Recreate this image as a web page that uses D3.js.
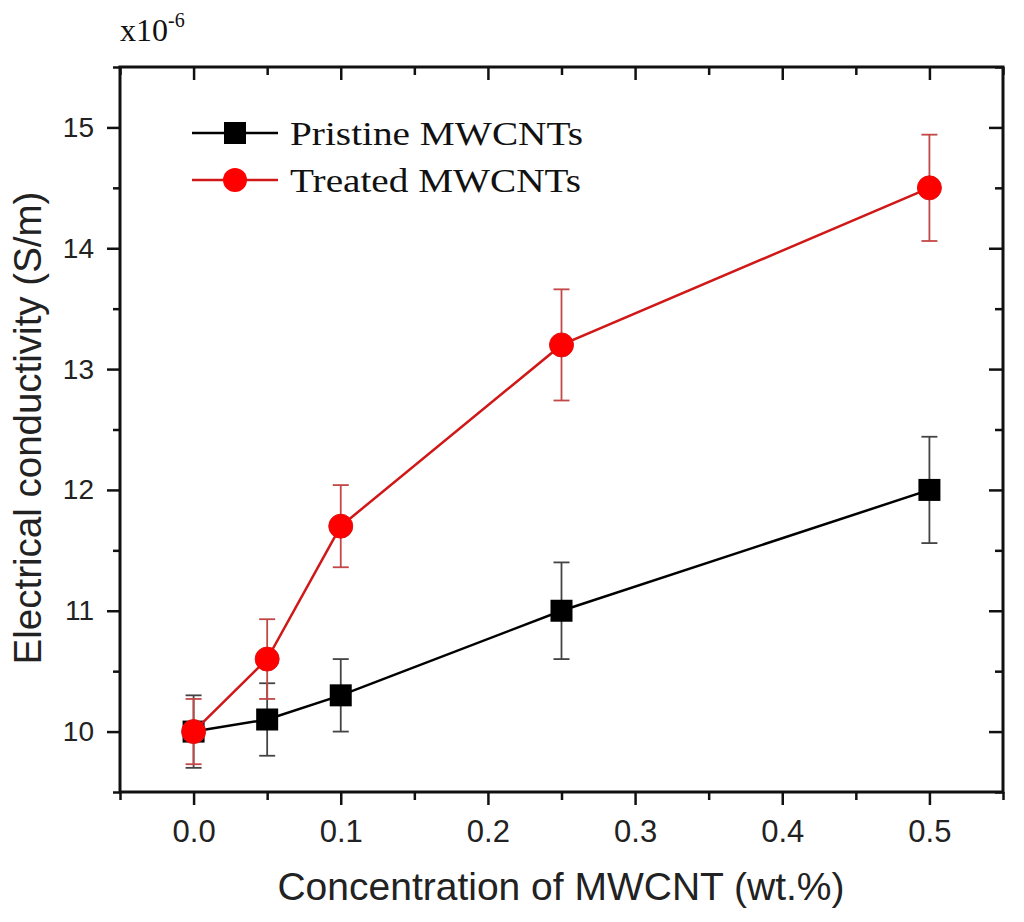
<!DOCTYPE html>
<html>
<head>
<meta charset="utf-8">
<title>Electrical conductivity</title>
<script src="https://d3js.org/d3.v7.min.js"></script>
<style>
  body { margin: 0; background: #fff; }
  svg { display: block; }
</style>
</head>
<body>
<div id="chart"></div>
<script>
// concentration of MWCNT (wt.%)
const conc = [0, 0.05, 0.1, 0.25, 0.5];
// conductivity x10^-6 S/m
const pristine = [10.0, 10.1, 10.3, 11.0, 12.0];
const pristineErr = [0.30, 0.30, 0.30, 0.40, 0.44];
const treated = [10.0, 10.6, 11.7, 13.2, 14.5];
const treatedErr = [0.27, 0.33, 0.34, 0.46, 0.44];

const xMajor = [0.0, 0.1, 0.2, 0.3, 0.4, 0.5];
const xMinor = [-0.05, 0.05, 0.15, 0.25, 0.35, 0.45, 0.55];
const yMajor = [10, 11, 12, 13, 14, 15];
const yMinor = [9.5, 10.5, 11.5, 12.5, 13.5, 14.5, 15.5];

const seriesNames = ["Pristine MWCNTs", "Treated MWCNTs"];

const margin = {top: 67, right: 21, bottom: 130, left: 120};
const W = 1024, H = 922;
const w = W - margin.left - margin.right;
const h = H - margin.top - margin.bottom;

const svg = d3.select("#chart").append("svg")
    .attr("width", W).attr("height", H);
const g = svg.append("g")
    .attr("transform", "translate(" + margin.left + "," + margin.top + ")");

const x = d3.scaleLinear().domain([-0.05, 0.55]).range([0, w]);
const y = d3.scaleLinear().domain([9.5, 15.5]).range([h, 0]);

// axes: bottom/left ticks point out, top/right ticks point in
function styleAxis(sel) {
    sel.select(".domain").remove();
    sel.selectAll(".tick line").attr("stroke", "#111").attr("stroke-width", 2.5);
}
g.append("g").attr("transform", "translate(0," + h + ")")
    .call(d3.axisBottom(x).tickValues(xMinor).tickSize(8).tickFormat(""))
    .call(styleAxis);
g.append("g").attr("transform", "translate(0," + h + ")")
    .call(d3.axisBottom(x).tickValues(xMajor).tickSize(13).tickPadding(15).tickFormat(d3.format(".1f")))
    .call(styleAxis)
    .selectAll("text").attr("font-family", "Liberation Sans, Arial, sans-serif")
    .attr("font-size", 31).attr("fill", "#222");
g.append("g")
    .call(d3.axisTop(x).tickValues(xMinor).tickSize(-8).tickFormat(""))
    .call(styleAxis);
g.append("g")
    .call(d3.axisTop(x).tickValues(xMajor).tickSize(-13).tickFormat(""))
    .call(styleAxis);

g.append("g")
    .call(d3.axisLeft(y).tickValues(yMinor).tickSize(7).tickFormat(""))
    .call(styleAxis);
g.append("g")
    .call(d3.axisLeft(y).tickValues(yMajor).tickSize(13).tickPadding(13).tickFormat(d3.format("d")))
    .call(styleAxis)
    .selectAll("text").attr("font-family", "Liberation Sans, Arial, sans-serif")
    .attr("font-size", 28).attr("fill", "#222");
g.append("g").attr("transform", "translate(" + w + ",0)")
    .call(d3.axisRight(y).tickValues(yMinor).tickSize(-8).tickFormat(""))
    .call(styleAxis);
g.append("g").attr("transform", "translate(" + w + ",0)")
    .call(d3.axisRight(y).tickValues(yMajor).tickSize(-14).tickFormat(""))
    .call(styleAxis);

// frame
g.append("rect").attr("width", w).attr("height", h)
    .attr("fill", "none").attr("stroke", "#111").attr("stroke-width", 3);

const line = d3.line().x(d => x(d[0])).y(d => y(d[1]));

function drawSeries(vals, errs, col, errCol, shape) {
    const pts = conc.map((c, i) => [c, vals[i], errs[i]]);
    g.append("path").datum(pts)
        .attr("d", line).attr("fill", "none")
        .attr("stroke", col).attr("stroke-width", 2.5);
    const eb = g.append("g").attr("stroke", errCol).attr("stroke-width", 1.8);
    pts.forEach(p => {
        const cx = x(p[0]);
        eb.append("line").attr("x1", cx).attr("x2", cx)
            .attr("y1", y(p[1] - p[2])).attr("y2", y(p[1] + p[2]));
        [p[1] - p[2], p[1] + p[2]].forEach(v => {
            eb.append("line").attr("x1", cx - 8).attr("x2", cx + 8)
                .attr("y1", y(v)).attr("y2", y(v));
        });
    });
    if (shape === "square") {
        g.selectAll(null).data(pts).enter().append("rect")
            .attr("x", d => x(d[0]) - 11).attr("y", d => y(d[1]) - 11)
            .attr("width", 22).attr("height", 22).attr("fill", col);
    } else {
        g.selectAll(null).data(pts).enter().append("circle")
            .attr("cx", d => x(d[0])).attr("cy", d => y(d[1]))
            .attr("r", 12).attr("fill", "#ff0000").attr("stroke", "#e01010").attr("stroke-width", 1);
    }
}
drawSeries(pristine, pristineErr, "#000", "#444", "square");
drawSeries(treated, treatedErr, "#d01818", "#c24848", "circle");

// legend
const legend = svg.append("g");
const legY = [133, 180];
const legCol = ["#000", "#d01818"];
legY.forEach((ly, i) => {
    legend.append("line").attr("x1", 192).attr("x2", 278)
        .attr("y1", ly).attr("y2", ly)
        .attr("stroke", legCol[i]).attr("stroke-width", 2.5);
    if (i === 0) {
        legend.append("rect").attr("x", 235 - 11).attr("y", ly - 11)
            .attr("width", 22).attr("height", 22).attr("fill", "#000");
    } else {
        legend.append("circle").attr("cx", 235).attr("cy", ly).attr("r", 12).attr("fill", "#ff0000");
    }
    legend.append("text").attr("x", 290).attr("y", ly + 12)
        .attr("font-family", "Liberation Serif, Times New Roman, serif")
        .attr("font-size", 34).attr("fill", "#111")
        .attr("textLength", i === 0 ? 293 : 291).attr("lengthAdjust", "spacingAndGlyphs")
        .text(seriesNames[i]);
});

// multiplier
const mult = svg.append("text").attr("x", 120).attr("y", 41)
    .attr("font-family", "Liberation Serif, Times New Roman, serif")
    .attr("font-size", 32).attr("fill", "#111");
mult.append("tspan").text("x10");
mult.append("tspan").attr("dy", -14).attr("font-size", 20).text("-6");

// axis titles
svg.append("text")
    .attr("x", 561).attr("y", 900)
    .attr("text-anchor", "middle")
    .attr("font-family", "Liberation Sans, Arial, sans-serif")
    .attr("font-size", 39).attr("fill", "#222")
    .text("Concentration of MWCNT (wt.%)");
svg.append("text")
    .attr("transform", "translate(41,428) rotate(-90)")
    .attr("text-anchor", "middle")
    .attr("font-family", "Liberation Sans, Arial, sans-serif")
    .attr("font-size", 38.5).attr("fill", "#222")
    .text("Electrical conductivity (S/m)");
</script>
</body>
</html>
